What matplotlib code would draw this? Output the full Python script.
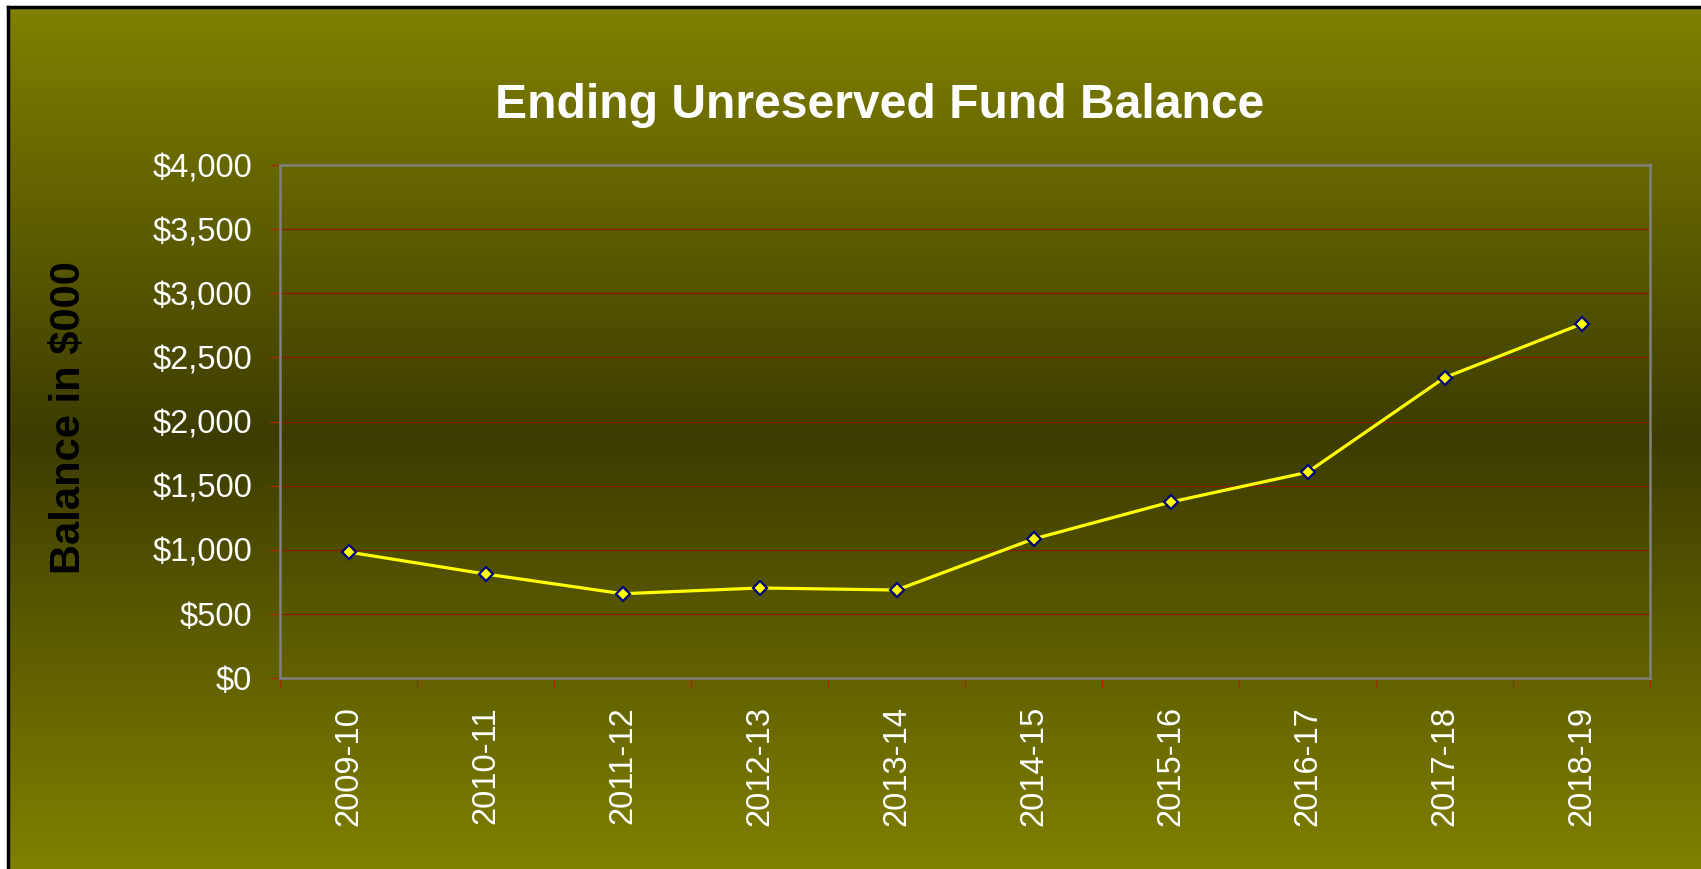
import numpy as np
import matplotlib.pyplot as plt

plt.rcParams['font.family'] = ['Liberation Sans', 'DejaVu Sans']

years = ['2009-10', '2010-11', '2011-12', '2012-13', '2013-14',
         '2014-15', '2015-16', '2016-17', '2017-18', '2018-19']
balance = [982, 811, 657, 702, 686, 1084, 1372, 1604, 2342, 2760]
yticks = [0, 500, 1000, 1500, 2000, 2500, 3000, 3500, 4000]

W, H = 1701, 869
fig = plt.figure(figsize=(W / 100, H / 100), dpi=100)
fig.patch.set_facecolor('white')

# background: olive gradient, dark in the middle
bg = fig.add_axes([8 / W, 0, 1 - 8 / W, 1 - 7 / H], zorder=-2)
t = np.linspace(0, 1, 400)
k = 1 - np.abs(t - 0.5) * 2
lev = (128 - 68 * k) / 255
grad = np.zeros((400, 1, 3))
grad[:, 0, 0] = lev
grad[:, 0, 1] = lev
bg.imshow(grad, aspect='auto', extent=[0, 1, 0, 1], interpolation='bilinear')
bg.set_xticks([])
bg.set_yticks([])
for s in ['right', 'bottom']:
    bg.spines[s].set_visible(False)
for s in ['top', 'left']:
    bg.spines[s].set_color('black')
    bg.spines[s].set_linewidth(2.5)

ax = fig.add_axes([280 / W, 1 - 678 / H, 1370 / W, 513 / H])
ax.set_facecolor('none')
x = np.arange(len(years))
ax.plot(x, balance, color='#FFFF00', lw=2.3, marker='D', ms=7.5,
        mfc='#FFFF00', mec='#000080', mew=1.6, zorder=3)

ax.set_xlim(-0.5, len(years) - 0.5)
ax.set_ylim(0, 4000)
ax.set_yticks(yticks)
ax.set_yticklabels(['${:,}'.format(v) for v in yticks])
ax.yaxis.grid(True, color='#8B1A00', lw=0.9)
ax.set_axisbelow(True)

ax.set_xticks(x)
ax.set_xticklabels(years, rotation=90, va='top')
ax.set_xticks(np.arange(-0.5, len(years)), minor=True)
ax.tick_params(axis='x', which='major', length=0, pad=20, labelsize=23.5,
               labelcolor='white')
ax.tick_params(axis='x', which='minor', length=7, width=1, color='#A52A00',
               direction='out')
ax.tick_params(axis='y', length=7, width=1, color='#A52A00', pad=13,
               labelsize=23.5, labelcolor='white')

for s in ax.spines.values():
    s.set_color('#808080')
    s.set_linewidth(1.8)

fig.text(880 / W, 1 - 106 / H, 'Ending Unreserved Fund Balance', ha='center',
         va='center', fontsize=34.6, fontweight='bold', color='white')
fig.text(69 / W, 1 - 418 / H, 'Balance in $000', ha='center', va='center',
         rotation=90, fontsize=30, fontweight='bold', color='black')

fig.savefig('out.png', dpi=100)
